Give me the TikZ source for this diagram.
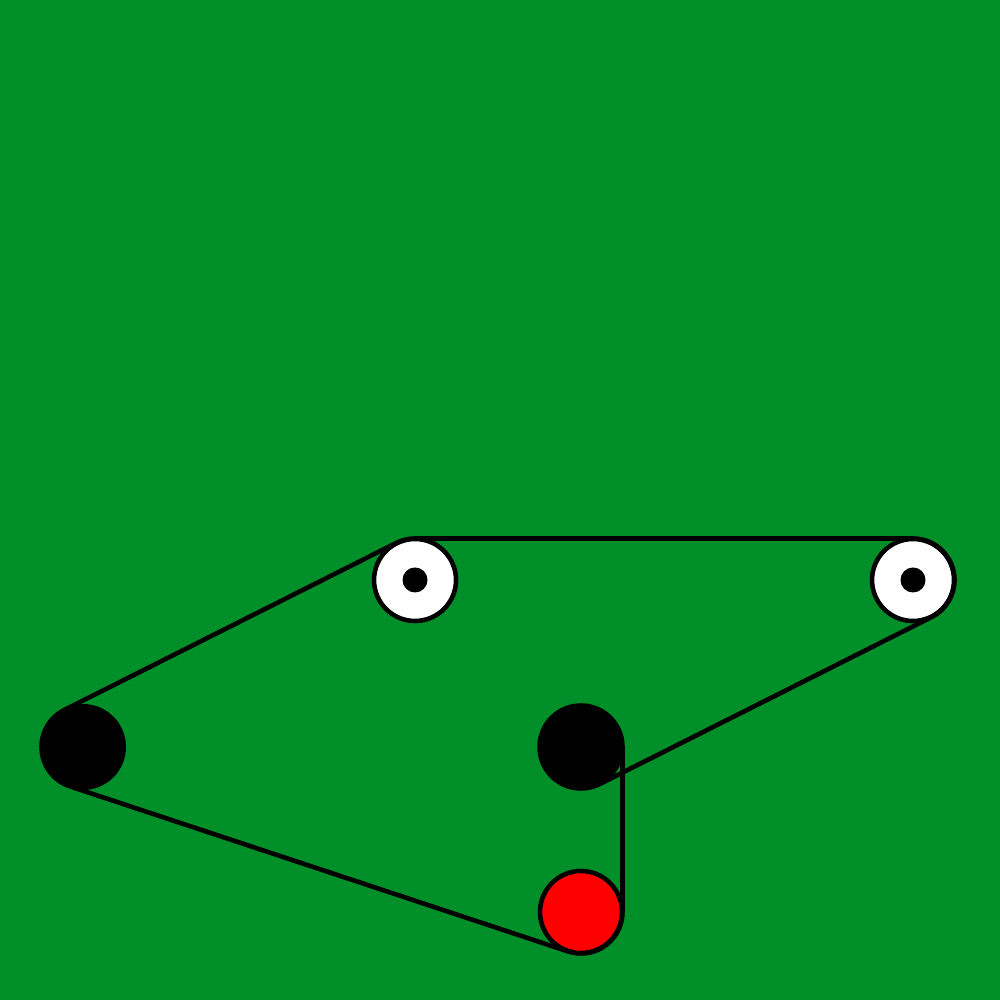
\documentclass[tikz,border=0pt]{standalone}
\usetikzlibrary{calc}
\definecolor{felt}{RGB}{0,143,41}

\begin{document}
\begin{tikzpicture}[line width=1.3pt,line join=round]
\tikzstyle{idler}=[circle,draw=black,fill=white,inner sep=0pt,minimum size=0.82cm]
\tikzstyle{hub}=[circle,fill=black,inner sep=0pt,minimum size=0.25cm]
\tikzstyle{drive}=[circle,fill=black,inner sep=0pt,minimum size=0.86cm]
\tikzstyle{tensioner}=[circle,draw=black,fill=red,inner sep=0pt,minimum size=0.82cm]
\def\r{0.415}
\fill[felt] (0,0) rectangle (10,10);
\useasboundingbox (0,0) rectangle (10,10);
\node[idler] (A) at (4.15,4.20) {};
\node[idler] (B) at (9.13,4.20) {};
\node[drive] (C) at (0.83,2.53) {};
\node[drive] (D) at (5.81,2.53) {};
\node[tensioner] (E) at (5.81,0.88) {};
\node[hub] (a) at (A) {};
\node[hub] (b) at (B) {};
% belt
\draw ($(A.center)+(90:\r)$) -- ($(B.center)+(90:\r)$)
  arc[start angle=90,end angle=-63.3,radius=\r]
  -- ($(D.center)+(-63.3:\r)$)
  arc[start angle=296.7,end angle=0,radius=\r]
  -- ($(E.center)+(0:\r)$)
  arc[start angle=0,end angle=-108.3,radius=\r]
  -- ($(C.center)+(-108.3:\r)$)
  arc[start angle=251.7,end angle=116.7,radius=\r]
  -- ($(A.center)+(116.7:\r)$)
  arc[start angle=116.7,end angle=90,radius=\r] -- cycle;
\end{tikzpicture}
\end{document}
